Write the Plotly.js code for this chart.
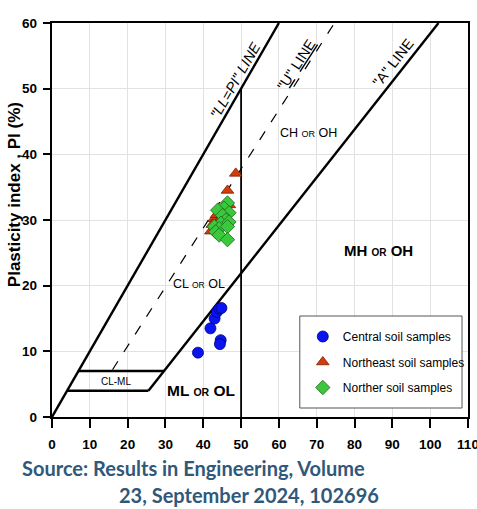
<!DOCTYPE html>
<html>
<head>
<meta charset="utf-8">
<script src="https://cdn.plot.ly/plotly-3.0.1.min.js"></script>
<style>
html,body{margin:0;padding:0;background:#fff;}
#chart{width:477px;height:509px;}
</style>
</head>
<body>
<div id="chart"></div>
<script>
// ---- data ----
var centralLL = [38.6, 41.9, 43.0, 43.6, 44.2, 44.8, 44.6, 44.4];
var centralPI = [9.8, 13.5, 15.0, 16.0, 16.5, 16.6, 11.7, 11.1];

var northeastLL = [48.6, 46.4, 46.9, 42.9, 42.4, 42.0, 44.0, 44.8, 45.5, 43.5];
var northeastPI = [37.1, 34.5, 32.3, 30.2, 29.3, 28.3, 29.3, 30.4, 29.0, 30.8];

var northerLL = [46.4, 45.5, 43.8, 46.8, 45.1, 46.0, 44.7, 46.8, 42.9, 44.2, 46.4, 43.3, 44.2, 46.4];
var northerPI = [32.6, 31.8, 31.5, 31.1, 30.7, 30.0, 29.5, 29.7, 29.0, 28.7, 29.0, 28.2, 27.7, 27.0];

// chart reference lines (liquid limit LL, plasticity index PI)
var llpiLineLL = [0, 60];        var llpiLinePI = [0, 60];
var aLineLL = [25.5, 102.2];     var aLinePI = [4, 60];
var uLineLL = [16, 74.7];        var uLinePI = [7.2, 60];
var clml7LL = [7, 29.6];         var clml7PI = [7, 7];
var clml4LL = [4, 25.5];         var clml4PI = [4, 4];
var ll50LL = [50, 50];           var ll50PI = [0, 50];

var xTicks = [0, 10, 20, 30, 40, 50, 60, 70, 80, 90, 100, 110];
var yTicks = [0, 10, 20, 30, 40, 50, 60];

var seriesNames = ['Central soil samples', 'Northeast soil samples', 'Norther soil samples'];

// ---- styling ----
var SANS = '"Liberation Sans", Arial, sans-serif';

function px2paperX(p) { return (p - 52) / 418; }
function px2paperY(p) { return (417 - p) / 394; }

function refLine(xs, ys, w, dash) {
  return {x: xs, y: ys, mode: 'lines', type: 'scatter', showlegend: false, hoverinfo: 'skip',
          line: {color: '#000', width: w, dash: dash || 'solid'}};
}

var traces = [
  refLine(llpiLineLL, llpiLinePI, 2.4),
  refLine(aLineLL, aLinePI, 2.4),
  refLine(uLineLL, uLinePI, 1.2, '10px,11px'),
  refLine(clml7LL, clml7PI, 2.4),
  refLine(clml4LL, clml4PI, 2.4),
  refLine(ll50LL, ll50PI, 1.8),
  {x: centralLL, y: centralPI, name: seriesNames[0], legendgroup: 'a', mode: 'markers', type: 'scatter',
   marker: {symbol: 'circle', size: 11, color: '#0a14f0', line: {color: '#00007a', width: 0.8}}},
  {x: northeastLL, y: northeastPI, name: seriesNames[1], legendgroup: 'b', mode: 'markers', type: 'scatter',
   marker: {symbol: 'triangle-up', size: 11, color: '#d23c0a', line: {color: '#7a1e00', width: 0.8}}},
  {x: northerLL, y: northerPI, name: seriesNames[2], legendgroup: 'c', mode: 'markers', type: 'scatter',
   marker: {symbol: 'diamond', size: 11, color: '#3cc83c', line: {color: '#1e641e', width: 0.8}}}
];

function ann(x, y, text, size, angle) {
  return {x: x, y: y, xref: 'x', yref: 'y', text: text, showarrow: false, xanchor: 'center', yanchor: 'middle',
          textangle: angle || 0, font: {family: SANS, size: size, color: '#000'}};
}

var annotations = [
  ann(48.4, 51.2, '<i>"LL=PI" LINE</i>', 14.5, -60),
  ann(64.6, 53.6, '"<u>U</u>" <u>LINE</u>', 14.5, -57),
  ann(90.4, 54.0, '"A" LINE', 14.5, -52),
  ann(67.9, 43.3, 'CH <span style="font-size:9px">OR</span> OH', 12.5, 0),
  ann(86.3, 25.4, '<b>MH <span style="font-size:10px">OR</span> OH</b>', 15, 0),
  ann(39.0, 20.2, 'CL <span style="font-size:8.5px">OR</span> OL', 12.5, 0),
  ann(39.5, 4.1, '<b>ML <span style="font-size:10.5px">OR</span> OL</b>', 15.5, 0),
  ann(16.8, 5.4, 'CL-ML', 10, 0),
  {xref: 'paper', yref: 'paper', x: px2paperX(14), y: px2paperY(195), xanchor: 'center', yanchor: 'middle',
   text: '<b>Plasticity index , PI (%)</b>', showarrow: false,
   textangle: -90, font: {family: SANS, size: 17, color: '#000'}},
  {xref: 'paper', yref: 'paper', x: px2paperX(194), y: px2paperY(468), xanchor: 'center', yanchor: 'middle',
   text: '<b>Source: Results in Engineering, Volume</b>',
   showarrow: false, font: {family: 'Lato, "Open Sans", sans-serif', size: 20, color: '#30587a'}},
  {xref: 'paper', yref: 'paper', x: px2paperX(250), y: px2paperY(495), xanchor: 'center', yanchor: 'middle',
   text: '<b>23, September 2024, 102696</b>',
   showarrow: false, font: {family: 'Lato, "Open Sans", sans-serif', size: 20, color: '#30587a'}}
];

var layout = {
  width: 477, height: 509,
  margin: {l: 52, r: 7, t: 23, b: 92},
  paper_bgcolor: '#fff', plot_bgcolor: '#fff',
  showlegend: true,
  legend: {x: px2paperX(304), y: px2paperY(322), xanchor: 'left', yanchor: 'top', bgcolor: 'rgba(0,0,0,0)',
           borderwidth: 0, tracegroupgap: 6.5,
           font: {family: SANS, size: 12, color: '#000'}},
  xaxis: {range: [0, 110], tickvals: xTicks, ticktext: xTicks.map(String), showgrid: true, gridcolor: '#e2e2e2',
          gridwidth: 1, zeroline: false, showline: true, linecolor: '#000', linewidth: 2.2, mirror: true,
          ticks: 'outside', ticklen: 9, tickwidth: 2, tickcolor: '#000', ticklabelstandoff: 5,
          ticklabeloverflow: 'allow',
          tickfont: {family: SANS, size: 13.5, color: '#000', weight: 'bold'}, fixedrange: true},
  yaxis: {range: [0, 60], tickvals: yTicks, ticktext: yTicks.map(String), showgrid: true, gridcolor: '#e2e2e2',
          gridwidth: 1, zeroline: false, showline: true, linecolor: '#000', linewidth: 2.2, mirror: true,
          ticks: 'outside', ticklen: 7, tickwidth: 2, tickcolor: '#000', ticklabelstandoff: 3,
          ticklabeloverflow: 'allow',
          tickfont: {family: SANS, size: 13.5, color: '#000', weight: 'bold'}, fixedrange: true},
  shapes: [
    {type: 'rect', xref: 'paper', yref: 'paper', x0: px2paperX(301), x1: px2paperX(464),
     y0: px2paperY(408), y1: px2paperY(316), fillcolor: '#fff', line: {color: '#555', width: 1}, layer: 'above'}
  ],
  annotations: annotations
};

Plotly.newPlot('chart', traces, layout, {displayModeBar: false, staticPlot: true});
</script>
</body>
</html>
